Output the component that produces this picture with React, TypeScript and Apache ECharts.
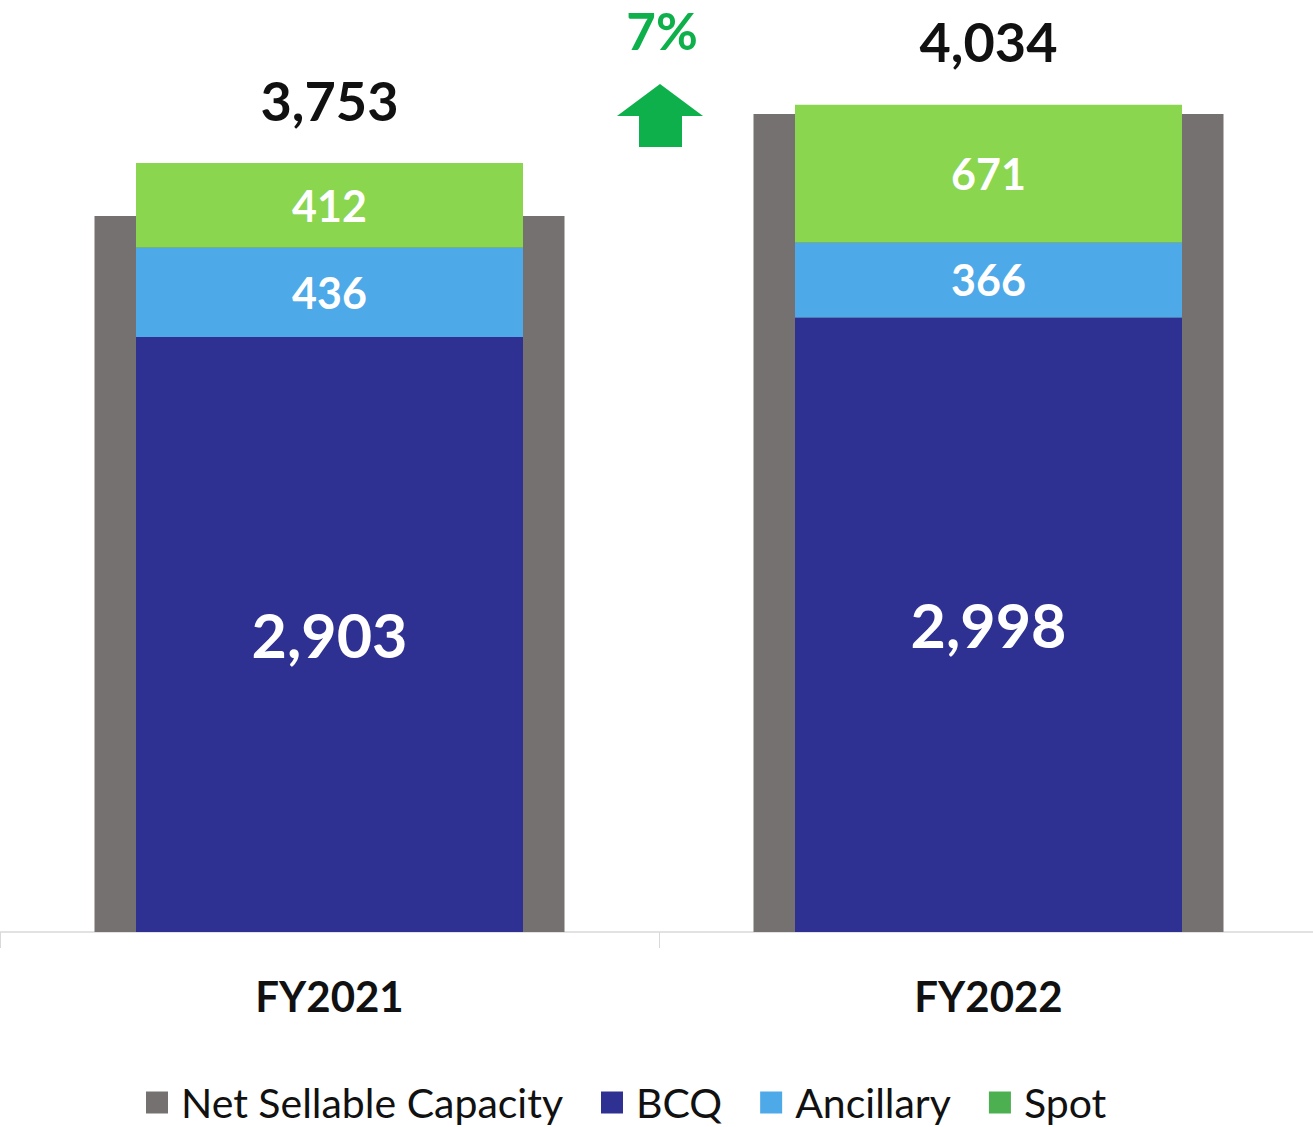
import React, { useEffect, useRef } from "react";
import * as echarts from "echarts";

const categories = ["FY2021", "FY2022"];
const netSellable = [3493, 3990];
const bcq = [2903, 2998];
const ancillary = [436, 366];
const spot = [412, 671];
const totals = ["3,753", "4,034"];
const growthLabel = "7%";

const FONT = "Lato, 'Open Sans', sans-serif";

export default function App() {
  const ref = useRef<HTMLDivElement>(null);
  useEffect(() => {
    document.body.style.margin = "0";
    document.documentElement.style.overflow = "hidden";
    document.body.style.overflow = "hidden";
    const chart = echarts.init(ref.current!, null, { renderer: "svg" });
    const inner = (size: number) => ({
      show: true,
      position: "inside" as const,
      color: "#ffffff",
      fontWeight: "bold" as const,
      fontSize: size,
      fontFamily: FONT,
      formatter: (p: any) => Number(p.value).toLocaleString("en-US"),
    });
    chart.setOption({
      animation: false,
      backgroundColor: "#ffffff",
      grid: { left: 0, right: 0, top: 9.5, bottom: 195, containLabel: false },
      xAxis: [
        {
          type: "category",
          data: categories,
          axisLine: { show: true, lineStyle: { color: "#d9d9d9", width: 1.5 } },
          axisTick: { show: true, length: 16, lineStyle: { color: "#d9d9d9" } },
          axisLabel: {
            color: "#111111",
            fontSize: 42,
            fontWeight: "bold",
            fontFamily: FONT,
            margin: 43,
          },
        },
        { type: "category", data: categories, show: false },
      ],
      yAxis: { type: "value", min: 0, max: 4500, show: false, splitLine: { show: false } },
      legend: {
        top: 1077,
        left: 141,
        itemWidth: 22,
        itemHeight: 22,
        itemGap: 38,
        icon: "rect",
        data: [
          { name: "Net Sellable Capacity" },
          { name: "BCQ" },
          { name: "Ancillary" },
          { name: "Spot", itemStyle: { color: "#4CAF50" } },
        ],
        textStyle: { fontSize: 41, fontFamily: FONT, color: "#111111", padding: [0, 0, 0, 8] },
      },
      series: [
        {
          name: "Net Sellable Capacity",
          type: "bar",
          xAxisIndex: 1,
          data: netSellable,
          barWidth: 470,
          itemStyle: { color: "#767171" },
        },
        {
          name: "BCQ",
          type: "bar",
          stack: "s",
          data: bcq,
          barWidth: 387,
          itemStyle: { color: "#2E3192" },
          label: inner(61),
        },
        {
          name: "Ancillary",
          type: "bar",
          stack: "s",
          data: ancillary,
          barWidth: 387,
          itemStyle: { color: "#4DA9E8" },
          label: inner(43),
        },
        {
          name: "Spot",
          type: "bar",
          stack: "s",
          data: spot,
          barWidth: 387,
          itemStyle: { color: "#8AD64F" },
          label: inner(43),
        },
        {
          name: "Total",
          type: "bar",
          stack: "s",
          data: [0, 0],
          barWidth: 387,
          itemStyle: { color: "transparent" },
          label: {
            show: true,
            position: "top",
            distance: 36,
            color: "#111111",
            fontSize: 54,
            fontWeight: "bold",
            fontFamily: FONT,
            formatter: (p: any) => totals[p.dataIndex],
          },
        },
      ],
      graphic: [
        {
          type: "text",
          x: 662,
          y: 30,
          style: {
            text: growthLabel,
            fill: "#0DB04B",
            fontSize: 51,
            lineHeight: 51,
            fontWeight: "bold",
            fontFamily: FONT,
            textAlign: "center",
            textVerticalAlign: "middle",
          },
        },
        {
          type: "polygon",
          shape: {
            points: [
              [660, 84],
              [703, 116],
              [682, 116],
              [682, 147],
              [639, 147],
              [639, 116],
              [617, 116],
            ],
          },
          style: { fill: "#0DB04B" },
        },
      ],
    });
    return () => chart.dispose();
  }, []);
  return <div ref={ref} style={{ width: 1318, height: 1127 }} />;
}
